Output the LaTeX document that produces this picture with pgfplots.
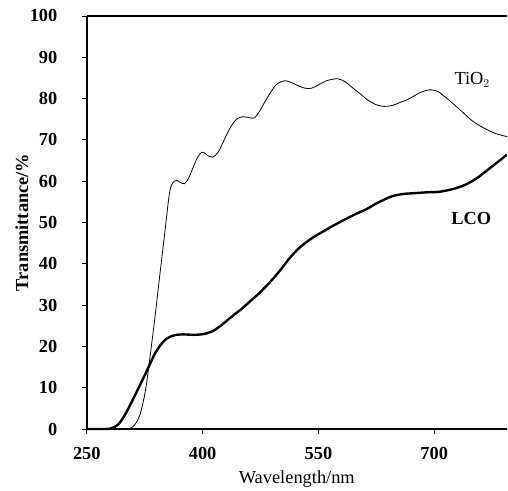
\documentclass[border=0pt]{standalone}
\usepackage{fontspec}
\setmainfont{Liberation Serif}
\usepackage{pgfplots}
\pgfplotsset{compat=1.18}
\begin{document}
\begin{tikzpicture}
\begin{axis}[
  scale only axis, width=421bp, height=414bp,
  xmin=250, xmax=794, ymin=0, ymax=100,
  axis x line*=box, axis y line*=left,
  axis line style={line width=1.5bp},
  xtick={250,400,550,700}, ytick={0,10,...,100},
  tick align=outside, major tick length=5bp,
  xtick pos=bottom, ytick pos=left,
  tick style={line width=0.8bp, black},
  /pgf/number format/assume math mode=true,
  ticklabel style={font=\fontsize{18.5}{22}\selectfont\bfseries},
  yticklabel style={xshift=-21bp},
  xticklabel style={yshift=-9.5bp},
  xlabel={Wavelength/nm},
  ylabel={\bfseries Transmittance/\%},
  label style={font=\fontsize{18.5}{22}\selectfont},
  xlabel style={at={(axis description cs:0.5,-0.1208)}, anchor=center},
  ylabel style={at={(axis description cs:-0.1544,0.5)}, anchor=center},
  clip=false,
]
\addplot[black, line width=0.8bp, smooth] coordinates {
(250,0) (300,0) (305,0.1) (310,0.6) (315,1.8) (319,3.5) (323,6.5) (327,10.5) (331.5,16.9) (338,26.6) (344.4,37) (351,47.5) (357,57) (361,59.5) (366,60.2) (371,59.7) (376.7,59.4) (382,60.8) (387,63) (392,65.2) (397,66.7) (401,67) (406,66.3) (413,65.8) (420,67) (428,70) (436,73) (444,75) (452,75.6) (460,75.4) (467,75.3) (474,77) (480,79) (488,81.5) (495,83.3) (502,84.1) (508,84.3) (516,83.8) (525,83) (533,82.5) (541,82.5) (550,83.3) (560,84.3) (575,84.8) (585,84) (595,82.5) (605,81) (615,79.5) (625,78.5) (635,78.1) (645,78.3) (655,79) (668,80) (680,81.3) (690,82) (697,82.1) (705,81.7) (712,80.7) (720,79.5) (735,77) (750,74.5) (765,72.8) (780,71.5) (794,70.8)
};
\addplot[black, line width=2.4bp, smooth] coordinates {
(250,0) (276,0) (282,0.2) (287,0.6) (292.7,1.5) (299,3.3) (305.6,5.6) (312,8) (318.5,10.5) (325,13) (331.5,15.6) (337,17.8) (342,19.4) (348,20.9) (353,21.8) (360,22.5) (366,22.8) (375,22.9) (388,22.8) (398,22.9) (406,23.2) (414,23.8) (422,24.8) (430,26) (439,27.4) (450,29) (462,31) (474,33) (487,35.5) (500,38.3) (512,41.2) (525,43.8) (540,46) (555,47.7) (568,49.1) (585,50.8) (600,52.2) (612,53.2) (625,54.6) (636,55.6) (646,56.4) (660,56.9) (675,57.1) (690,57.3) (705,57.4) (715,57.7) (728,58.3) (741,59.2) (755,60.7) (767,62.4) (780,64.3) (794,66.4)
};
\node[font=\fontsize{18.5}{22}\selectfont, anchor=base west, inner sep=0pt] at (axis cs:726,83.3) {TiO$_2$};
\node[font=\fontsize{18.5}{22}\selectfont\bfseries, anchor=base west, inner sep=0pt] at (axis cs:722,49.5) {LCO};
\path (rel axis cs:0,0) ++(-87bp,-60bp);
\path (rel axis cs:1,1) ++(0,16bp);
\end{axis}
\end{tikzpicture}
\end{document}
